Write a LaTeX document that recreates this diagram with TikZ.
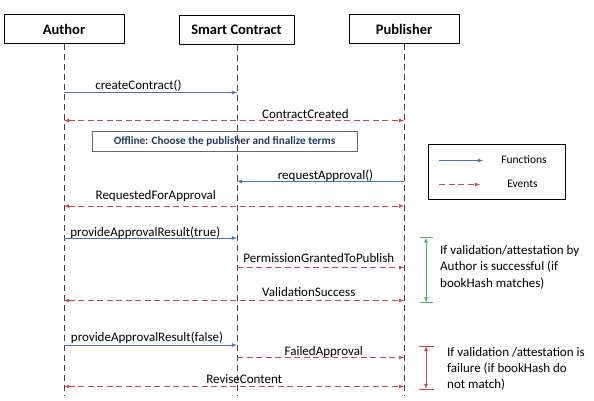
\documentclass[tikz,border=0pt]{standalone}
\usepackage{fontspec}
\setmainfont{Carlito}
\definecolor{fnblue}{RGB}{68,114,196}
\definecolor{evred}{RGB}{214,64,80}
\definecolor{okgreen}{RGB}{84,176,104}
\definecolor{navy}{RGB}{32,56,100}

\begin{document}
\begin{tikzpicture}[x=1pt,y=-1pt,>=latex,
  every node/.style={font=\fontsize{13}{15}\selectfont},
  actor/.style={draw,line width=1pt,minimum height=29pt,font=\bfseries\fontsize{14.5}{16}\selectfont},
  life/.style={draw=black!75,line width=0.9pt,dash pattern=on 6pt off 4pt},
  fn/.style={draw=fnblue,line width=0.8pt,->},
  ev/.style={draw=evred,line width=0.8pt,dash pattern=on 6pt off 3.5pt,<->},
  evone/.style={ev,-latex},
  lbl/.style={anchor=base,inner sep=0pt,yshift=2.5pt},
  note/.style={anchor=north west,align=left,inner sep=0pt}]
 \useasboundingbox (0,0) rectangle (594,401);
 % actors and lifelines
 \node[actor,minimum width=120pt] (author) at (64,29.5) {Author};
 \node[actor,minimum width=115pt] (sc) at (236.5,30) {Smart Contract};
 \node[actor,minimum width=110pt] (pub) at (404,29.5) {Publisher};
 \coordinate (authorEnd) at (64,395);
 \coordinate (scEnd) at (237,396);
 \coordinate (pubEnd) at (404,395);
 \draw[life] (author) -- (authorEnd);
 \draw[life] (sc.south -| scEnd) -- (scEnd);
 \draw[life] (pub) -- (pubEnd);
 % message rows
 \foreach \n/\y in {1/92.5,2/120.5,3/181.5,4/206,5/238,6/267.5,7/300.5,8/345,9/357.5,10/386.5}{
   \coordinate (a\n) at (64,\y);
   \coordinate (s\n) at (237,\y);
   \coordinate (p\n) at (404,\y);
 }
 \draw[fn] (a1) -- (s1) node[lbl,pos=0.43] {createContract()};
 \draw[ev] (a2) -- (p2) node[lbl,pos=0.71] {ContractCreated};
 \node[draw=black!60,line width=0.8pt,minimum width=265pt,minimum height=20pt,
   text=navy,font=\bfseries\fontsize{11.2}{13}\selectfont] (offline) at (224.5,141)
   {Offline: Choose the publisher and finalize terms};
 \draw[fn] (p3) -- (s3) node[lbl,pos=0.47] {requestApproval()};
 \draw[ev] (a4) -- (p4) node[lbl,pos=0.27,yshift=4.5pt] {RequestedForApproval};
 \draw[fn] (a5) -- (s5) node[lbl,pos=0.47,yshift=-1pt] {provideApprovalResult(true)};
 \draw[evone] (s6) -- (p6) node[lbl,pos=0.49,yshift=2.5pt] {PermissionGrantedToPublish};
 \draw[ev] (a7) -- (p7) node[lbl,pos=0.72,yshift=2pt] {ValidationSuccess};
 \draw[fn] (a8) -- (s8) node[lbl,pos=0.48,yshift=1.5pt] {provideApprovalResult(false)};
 \draw[evone] (s9) -- (p9) node[lbl,pos=0.52] {FailedApproval};
 \draw[ev] (a10) -- (p10) node[lbl,pos=0.53,yshift=1pt] {ReviseContent};
 % legend
 \node[draw,line width=1pt,minimum width=137pt,minimum height=55pt] (legend) at (496.5,171.5) {};
 \coordinate (fnL) at (439,160.5); \coordinate (fnR) at (483,160.5);
 \coordinate (evL) at (439,184.5); \coordinate (evR) at (480,184.5);
 \draw[fn] (fnL) -- (fnR);
 \draw[evone] (evL) -- (evR);
 \node[font=\fontsize{11.5}{13}\selectfont] (fntxt) at (524,160) {Functions};
 \node[font=\fontsize{11.5}{13}\selectfont] (evtxt) at (522.5,184) {Events};
 % success bracket
 \coordinate (g1) at (426,237.5); \coordinate (g2) at (426,302.5);
 \draw[okgreen,line width=0.8pt,<->] (g1) -- (g2);
 \foreach \c in {g1,g2}{\draw[okgreen,line width=0.8pt] ([xshift=-6pt]\c) -- ([xshift=7pt]\c);}
 \node[note,font=\fontsize{13}{16.5}\selectfont] (oknote) at (440,245)
   {If validation/attestation by\\Author is successful (if\\bookHash matches)};
 % failure bracket
 \coordinate (r1) at (426,346); \coordinate (r2) at (426,389);
 \draw[evred,line width=0.8pt,<->] (r1) -- (r2);
 \foreach \c in {r1,r2}{\draw[evred,line width=0.8pt] ([xshift=-7.5pt]\c) -- ([xshift=8pt]\c);}
 \node[note,font=\fontsize{13}{16}\selectfont] (failnote) at (447,347)
   {If validation /attestation is\\failure (if bookHash do\\not match)};
\end{tikzpicture}
\end{document}
